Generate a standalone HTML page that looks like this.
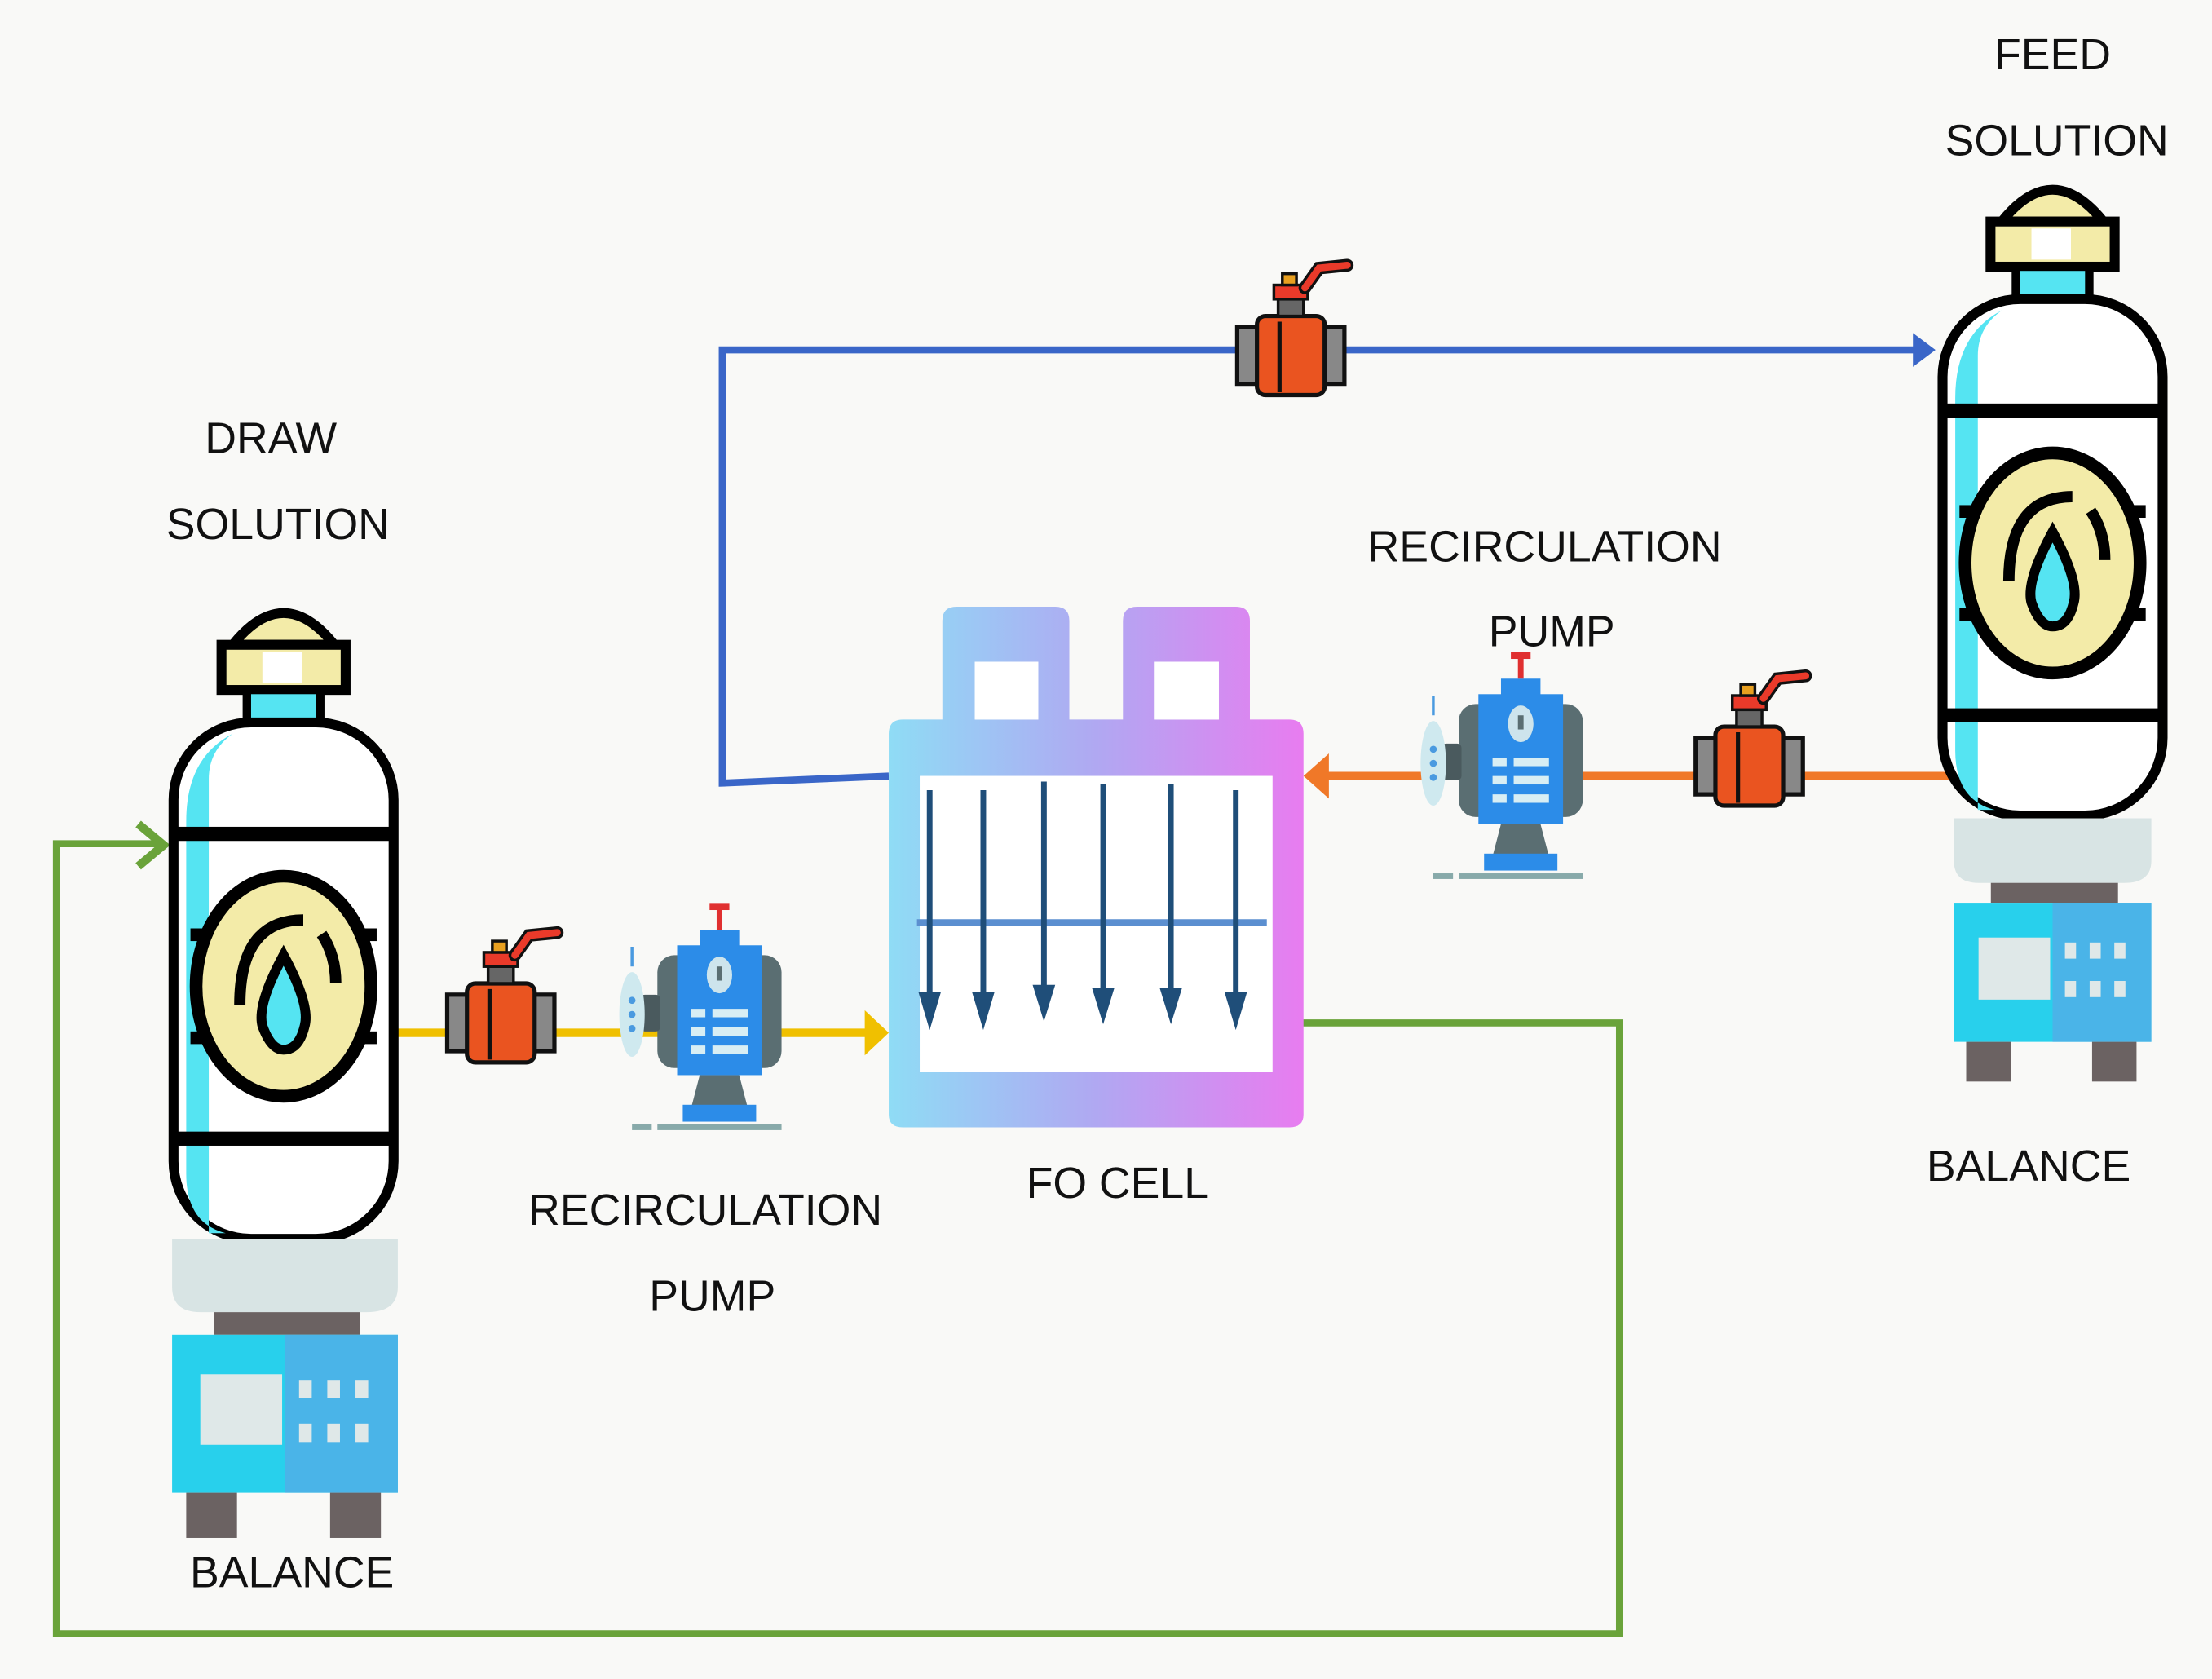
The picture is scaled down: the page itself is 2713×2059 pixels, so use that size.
<!DOCTYPE html>
<html><head><meta charset="utf-8"><style>
html,body{margin:0;padding:0;background:#f9f9f7;}
svg{display:block}
text{font-family:"Liberation Sans",Arial,sans-serif;font-size:31px;fill:#111;text-anchor:middle}
</style></head><body>
<svg width="2713" height="2059" viewBox="0 0 1568 1190" preserveAspectRatio="none" xmlns="http://www.w3.org/2000/svg">
<defs>
<linearGradient id="fo" x1="0" x2="1" y1="0" y2="0">
<stop offset="0" stop-color="#8fdcf5"/><stop offset="0.5" stop-color="#b0a8f2"/><stop offset="1" stop-color="#e87cf0"/>
</linearGradient>
<g id="tank">
<path d="M45 -55 Q81 -100 117 -55 Z" fill="#f3eba8" stroke="#000" stroke-width="7"/>
<rect x="37" y="-55" width="88" height="32" fill="#f3eba8" stroke="#000" stroke-width="7"/>
<rect x="66" y="-50" width="28" height="22" fill="#fff"/>
<rect x="55" y="-23" width="52" height="23" fill="#55e4f2" stroke="#000" stroke-width="6"/>
<rect x="3" y="0" width="156" height="366" rx="55" fill="#fff" stroke="#000" stroke-width="7"/>
<path d="M12 70 L12 320 Q12 355 40 362 L28 362 L28 40 Q28 20 45 8 Q12 25 12 70Z" fill="#55e4f2"/>
<rect x="6" y="74" width="150" height="10" fill="#000"/>
<rect x="6" y="290" width="150" height="10" fill="#000"/>
<rect x="15" y="146" width="132" height="9" fill="#000"/>
<rect x="15" y="219" width="132" height="9" fill="#000"/>
<ellipse cx="81" cy="187" rx="62" ry="78" fill="#f3eba8" stroke="#000" stroke-width="9"/>
<path d="M50 200 Q50 140 95 140 M108 150 Q118 165 118 185" fill="none" stroke="#000" stroke-width="8"/>
<path d="M81 165 Q62 200 66 215 Q72 232 81 232 Q92 232 96 215 Q100 200 81 165Z" fill="#55e4f2" stroke="#000" stroke-width="7"/>
</g>
<g id="bal">
<path d="M2 366 L162 366 L162 400 Q162 418 140 418 L22 418 Q2 418 2 400Z" fill="#d8e4e4"/>
<rect x="32" y="418" width="103" height="16" fill="#6b6262"/>
<rect x="2" y="434" width="160" height="112" fill="#28d0ec"/>
<rect x="82" y="434" width="80" height="112" fill="#4ab4e8"/>
<rect x="22" y="462" width="58" height="50" fill="#dfe8e8"/>
<g fill="#dfe8e8"><rect x="92" y="466" width="9" height="13"/><rect x="112" y="466" width="9" height="13"/><rect x="132" y="466" width="9" height="13"/><rect x="92" y="497" width="9" height="13"/><rect x="112" y="497" width="9" height="13"/><rect x="132" y="497" width="9" height="13"/></g>
<rect x="12" y="546" width="36" height="32" fill="#6b6262"/>
<rect x="114" y="546" width="36" height="32" fill="#6b6262"/>
</g>
<g id="valve">
<rect x="-38" y="-20" width="16" height="40" fill="#888" stroke="#111" stroke-width="3"/>
<rect x="22" y="-20" width="16" height="40" fill="#888" stroke="#111" stroke-width="3"/>
<rect x="-24" y="-28" width="48" height="56" rx="6" fill="#ea5420" stroke="#111" stroke-width="3"/>
<line x1="-8" y1="-24" x2="-8" y2="26" stroke="#111" stroke-width="3"/>
<rect x="-9" y="-40" width="18" height="12" fill="#666" stroke="#111" stroke-width="2"/>
<rect x="-12" y="-50" width="24" height="10" fill="#ea3a2a" stroke="#111" stroke-width="2"/>
<rect x="-6" y="-58" width="10" height="8" fill="#e8a020" stroke="#111" stroke-width="2"/>
<path d="M10 -48 L20 -62 L40 -64" fill="none" stroke="#111" stroke-width="9" stroke-linecap="round"/>
<path d="M10 -48 L20 -62 L40 -64" fill="none" stroke="#ea3a2a" stroke-width="5" stroke-linecap="round"/>
</g>
<g id="pump">
<rect x="-44" y="-38" width="88" height="80" rx="12" fill="#5a6e72"/>
<rect x="-30" y="-45" width="60" height="92" fill="#2c8ce8"/>
<rect x="-14" y="-56" width="28" height="14" fill="#2c8ce8"/>
<rect x="-2" y="-72" width="4" height="16" fill="#e03030"/>
<rect x="-7" y="-75" width="14" height="5" fill="#e03030"/>
<ellipse cx="0" cy="-24" rx="9" ry="13" fill="#cde4ec"/>
<rect x="-2" y="-30" width="4" height="10" fill="#5a6e72"/>
<g fill="#d8eef4"><rect x="-20" y="0" width="10" height="6"/><rect x="-5" y="0" width="25" height="6"/><rect x="-20" y="13" width="10" height="6"/><rect x="-5" y="13" width="25" height="6"/><rect x="-20" y="26" width="10" height="6"/><rect x="-5" y="26" width="25" height="6"/></g>
<path d="M-14 47 L14 47 L20 70 L-20 70Z" fill="#5a6e72"/>
<rect x="-26" y="68" width="52" height="12" fill="#2c8ce8"/>
<rect x="-62" y="82" width="14" height="4" fill="#8aa"/>
<rect x="-44" y="82" width="88" height="4" fill="#8aa"/>
<rect x="-56" y="-10" width="14" height="26" rx="3" fill="#4a5a5e"/>
<ellipse cx="-62" cy="4" rx="9" ry="30" fill="#cfe9ef"/>
<circle cx="-62" cy="-6" r="2.5" fill="#4a9ae0"/><circle cx="-62" cy="4" r="2.5" fill="#4a9ae0"/><circle cx="-62" cy="14" r="2.5" fill="#4a9ae0"/>
<rect x="-63" y="-44" width="2" height="14" fill="#4a9ae0"/>
</g>
</defs>

<path d="M630 550 L512 555 L512 248 L1360 248" fill="none" stroke="#3a66c8" stroke-width="5"/>
<polygon points="1372,248 1356,236 1356,260" fill="#3a66c8"/>
<line x1="282" y1="732" x2="616" y2="732" stroke="#f0c000" stroke-width="6"/>
<polygon points="630,732 613,716 613,748" fill="#f0c000"/>
<line x1="1385" y1="550" x2="938" y2="550" stroke="#f07828" stroke-width="6"/>
<polygon points="924,550 942,534 942,566" fill="#f07828"/>
<path d="M922 725 L1148 725 L1148 1158 L40 1158 L40 598 L112 598" fill="none" stroke="#6aa33a" stroke-width="5"/>
<path d="M98 584 L116 599 L98 614" fill="none" stroke="#6aa33a" stroke-width="6"/>

<use href="#tank" x="120" y="512"/><use href="#bal" x="120" y="512"/>
<use href="#tank" x="1374" y="212"/>
<g transform="translate(1385,580) scale(0.875,0.88) translate(-2,-366)"><use href="#bal"/></g>

<path fill="url(#fo)" fill-rule="evenodd" d="M668 440 Q668 430 678 430 L748 430 Q758 430 758 440 L758 510 L796 510 L796 440 Q796 430 806 430 L876 430 Q886 430 886 440 L886 510 L914 510 Q924 510 924 520 L924 790 Q924 799 914 799 L640 799 Q630 799 630 790 L630 520 Q630 510 640 510 L668 510Z M691 469 L736 469 L736 510 L691 510Z M818 469 L864 469 L864 510 L818 510Z M652 550 L902 550 L902 760 L652 760Z"/>
<rect x="691" y="469" width="45" height="41" fill="#fff"/>
<rect x="818" y="469" width="46" height="41" fill="#fff"/>
<rect x="652" y="550" width="250" height="210" fill="#fff"/>
<line x1="650" y1="654" x2="898" y2="654" stroke="#5b8fd0" stroke-width="5"/>
<g stroke="#1f4e79" stroke-width="4">
<line x1="659" y1="560" x2="659" y2="710"/><line x1="697" y1="560" x2="697" y2="710"/><line x1="740" y1="554" x2="740" y2="705"/><line x1="782" y1="556" x2="782" y2="707"/><line x1="830" y1="556" x2="830" y2="707"/><line x1="876" y1="560" x2="876" y2="710"/>
</g>
<g fill="#1f4e79">
<polygon points="651,703 667,703 659,730"/><polygon points="689,703 705,703 697,730"/><polygon points="732,698 748,698 740,724"/><polygon points="774,700 790,700 782,726"/><polygon points="822,700 838,700 830,726"/><polygon points="868,703 884,703 876,730"/>
</g>

<use href="#valve" x="915" y="252"/>
<use href="#valve" x="355" y="725"/>
<use href="#valve" x="1240" y="543"/>
<use href="#pump" x="510" y="715"/>
<use href="#pump" x="1078" y="537"/>

<text x="192" y="321">DRAW</text>
<text x="197" y="382">SOLUTION</text>
<text x="1455" y="49">FEED</text>
<text x="1458" y="110">SOLUTION</text>
<text x="1095" y="398">RECIRCULATION</text>
<text x="1100" y="458">PUMP</text>
<text x="500" y="868">RECIRCULATION</text>
<text x="505" y="929">PUMP</text>
<text x="792" y="849">FO CELL</text>
<text x="1438" y="837">BALANCE</text>
<text x="207" y="1125">BALANCE</text>
</svg>
</body></html>
